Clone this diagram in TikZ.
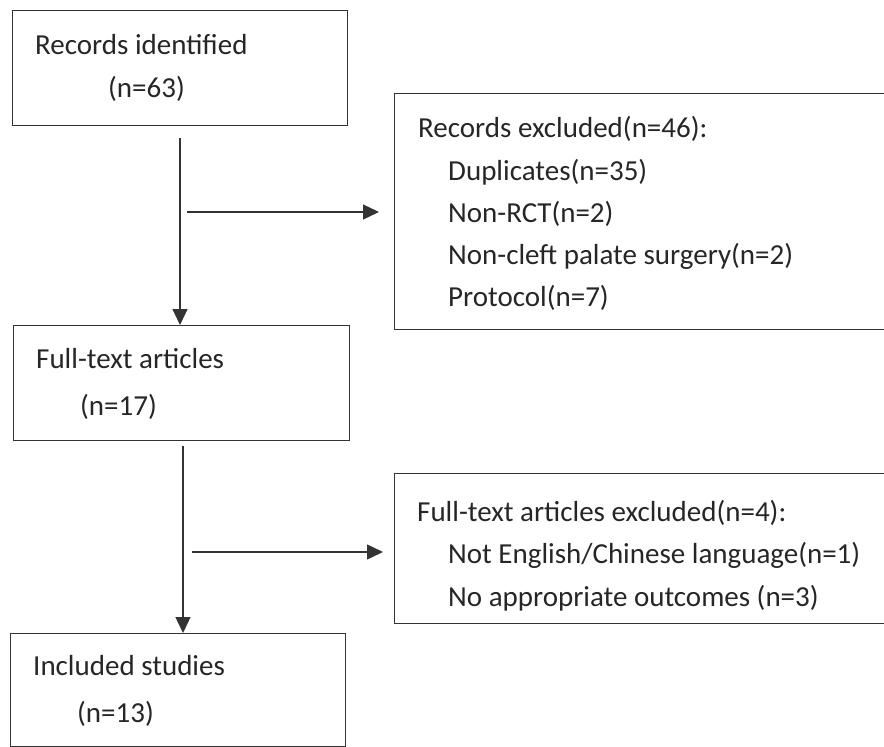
\documentclass[tikz,border=0pt]{standalone}
\usepackage{fontspec}
\setmainfont{Carlito}
\usetikzlibrary{arrows.meta}
\begin{document}
\begin{tikzpicture}[x=1pt,y=-1pt,
  boxline/.style={draw=black!80, line width=1.3pt},
  lbl/.style={anchor=base west, inner sep=0pt, text=black!85, font=\fontsize{29}{35}\selectfont},
  arr/.style={draw=black!80, line width=1.3pt, -{Triangle[length=16pt,width=15pt]}}]
\useasboundingbox (0,0) rectangle (884,747);
\clip (0,0) rectangle (884,747);
% boxes
\node[boxline, minimum width=335pt, minimum height=115pt, inner sep=0pt, anchor=north west] (b1) at (12,10) {};
\node[boxline, minimum width=520pt, minimum height=236pt, inner sep=0pt, anchor=north west] (b2) at (394,93) {};
\node[boxline, minimum width=336pt, minimum height=115pt, inner sep=0pt, anchor=north west] (b3) at (13,325) {};
\node[boxline, minimum width=520pt, minimum height=150pt, inner sep=0pt, anchor=north west] (b4) at (394,473) {};
\node[boxline, minimum width=335pt, minimum height=113pt, inner sep=0pt, anchor=north west] (b5) at (10,633) {};
% texts
\node[lbl] (t1a) at (35,54) {Records identified};
\node[lbl] (t1b) at (108,97) {(n=63)};
\node[lbl] (t2a) at (418,137) {Records excluded(n=46):};
\node[lbl] (t2b) at (448,180) {Duplicates(n=35)};
\node[lbl] (t2c) at (448,222) {Non-RCT(n=2)};
\node[lbl] (t2d) at (448,264) {Non-cleft palate surgery(n=2)};
\node[lbl] (t2e) at (448,306) {Protocol(n=7)};
\node[lbl] (t3a) at (36,368) {Full-text articles};
\node[lbl] (t3b) at (80,415) {(n=17)};
\node[lbl] (t4a) at (417,521) {Full-text articles excluded(n=4):};
\node[lbl] (t4b) at (448,563) {Not English/Chinese language(n=1)};
\node[lbl] (t4c) at (448,606) {No appropriate outcomes (n=3)};
\node[lbl] (t5a) at (33,675) {Included studies};
\node[lbl] (t5b) at (77,722) {(n=13)};
% connectors
\coordinate (v1s) at (180,138);
\coordinate (v1e) at (180,325);
\coordinate (h1s) at (187,212);
\coordinate (h1e) at (379,212);
\coordinate (v2s) at (183,446);
\coordinate (v2e) at (183,633);
\coordinate (h2s) at (192,552);
\coordinate (h2e) at (383,552);
\draw[arr] (v1s) -- (v1e |- b3.north);
\draw[arr] (h1s) -- (h1e);
\draw[arr] (v2s) -- (v2e |- b5.north);
\draw[arr] (h2s) -- (h2e);
\end{tikzpicture}
\end{document}
